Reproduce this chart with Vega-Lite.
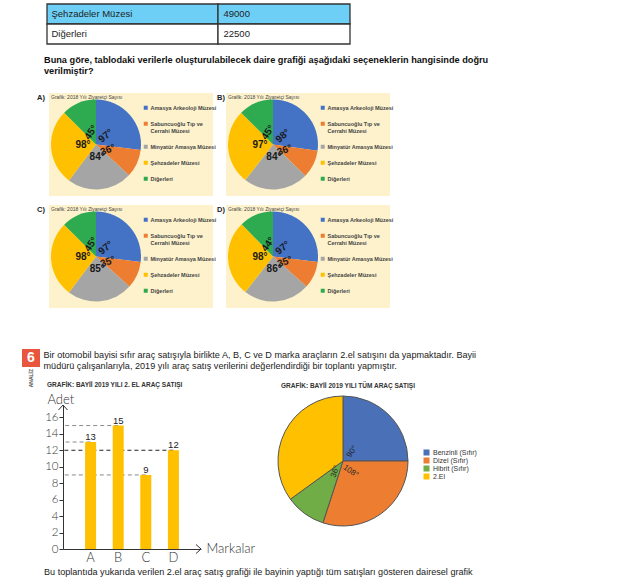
{
  "$schema": "https://vega.github.io/schema/vega-lite/v6.json",
  "padding": {"left": 0, "top": 3, "right": 0, "bottom": 0},
  "background": "white",
  "config": {
    "view": {"stroke": null},
    "font": "Liberation Sans",
    "axis": {"grid": false}
  },
  "datasets": {
    "tablo": [
      {"muze": "Şehzadeler Müzesi", "ziyaretci": 49000},
      {"muze": "Diğerleri", "ziyaretci": 22500}
    ],
    "A": [
      {"sira": 1, "muze": "Amasya Arkeoloji Müzesi", "derece": 97, "etiket": "97°"},
      {"sira": 2, "muze": "Sabuncuoğlu Tıp ve Cerrahi Müzesi", "derece": 36, "etiket": "36°"},
      {"sira": 3, "muze": "Minyatür Amasya Müzesi", "derece": 84, "etiket": "84°"},
      {"sira": 4, "muze": "Şehzadeler Müzesi", "derece": 98, "etiket": "98°"},
      {"sira": 5, "muze": "Diğerleri", "derece": 45, "etiket": "45°"}
    ],
    "B": [
      {"sira": 1, "muze": "Amasya Arkeoloji Müzesi", "derece": 98, "etiket": "98°"},
      {"sira": 2, "muze": "Sabuncuoğlu Tıp ve Cerrahi Müzesi", "derece": 36, "etiket": "36°"},
      {"sira": 3, "muze": "Minyatür Amasya Müzesi", "derece": 84, "etiket": "84°"},
      {"sira": 4, "muze": "Şehzadeler Müzesi", "derece": 97, "etiket": "97°"},
      {"sira": 5, "muze": "Diğerleri", "derece": 45, "etiket": "45°"}
    ],
    "C": [
      {"sira": 1, "muze": "Amasya Arkeoloji Müzesi", "derece": 97, "etiket": "97°"},
      {"sira": 2, "muze": "Sabuncuoğlu Tıp ve Cerrahi Müzesi", "derece": 35, "etiket": "35°"},
      {"sira": 3, "muze": "Minyatür Amasya Müzesi", "derece": 85, "etiket": "85°"},
      {"sira": 4, "muze": "Şehzadeler Müzesi", "derece": 98, "etiket": "98°"},
      {"sira": 5, "muze": "Diğerleri", "derece": 45, "etiket": "45°"}
    ],
    "D": [
      {"sira": 1, "muze": "Amasya Arkeoloji Müzesi", "derece": 97, "etiket": "97°"},
      {"sira": 2, "muze": "Sabuncuoğlu Tıp ve Cerrahi Müzesi", "derece": 35, "etiket": "35°"},
      {"sira": 3, "muze": "Minyatür Amasya Müzesi", "derece": 86, "etiket": "86°"},
      {"sira": 4, "muze": "Şehzadeler Müzesi", "derece": 98, "etiket": "98°"},
      {"sira": 5, "muze": "Diğerleri", "derece": 44, "etiket": "44°"}
    ],
    "ikinciEl": [
      {"marka": "A", "adet": 13},
      {"marka": "B", "adet": 15},
      {"marka": "C", "adet": 9},
      {"marka": "D", "adet": 12}
    ],
    "tumSatis": [
      {"sira": 1, "arac": "Benzinli (Sıfır)", "derece": 90, "etiket": "90°"},
      {"sira": 2, "arac": "Dizel (Sıfır)", "derece": 108, "etiket": "108°"},
      {"sira": 3, "arac": "Hibrit (Sıfır)", "derece": 36, "etiket": "36°"},
      {"sira": 4, "arac": "2.El", "derece": 126, "etiket": ""}
    ]
  },
  "spacing": 0,
  "bounds": "full",
  "align": "each",
  "resolve": {"scale": {"color": "independent", "fill": "independent", "stroke": "independent"}, "legend": {"color": "independent"}},
  "vconcat": [
    {
      "spacing": 0, "bounds": "flush", "align": "each",
      "resolve": {"scale": {"color": "independent", "fill": "independent"}, "legend": {"color": "independent"}},
      "hconcat": [
        {"width": 47, "height": 89, "data": {"values": [{}]}, "mark": {"type": "point", "opacity": 0}},
        {
          "width": 171, "height": 40,
          "data": {"name": "tablo"},
          "title": {"text": ["Buna göre, tablodaki verilerle oluşturulabilecek daire grafiği aşağıdaki seçeneklerin hangisinde doğru", "verilmiştir?"], "orient": "bottom", "anchor": "start", "frame": "group", "baseline": "top", "offset": 11, "dx": -3, "fontSize": 9.2, "fontWeight": "bold", "color": "#111", "lineHeight": 11, "font": "Liberation Sans Narrow, Liberation Sans"},
          "mark": {"type": "rect", "stroke": "#333", "strokeWidth": 1.3},
          "encoding": {
            "y": {"field": "muze", "type": "nominal", "sort": null, "scale": {"paddingInner": 0, "paddingOuter": 0}, "axis": {"title": null, "domain": false, "ticks": false, "tickSize": 0, "labelPadding": -4, "labelAlign": "left", "labelFontSize": 9.5, "labelColor": "#222", "labelFont": "Liberation Sans Narrow, Liberation Sans", "zindex": 1}},
            "fill": {"field": "muze", "type": "nominal", "scale": {"domain": ["Şehzadeler Müzesi", "Diğerleri"], "range": ["#6DCFF6", "#FFFFFF"]}, "legend": null}
          }
        },
        {
          "width": 132, "height": 40,
          "data": {"name": "tablo"},
          "mark": {"type": "rect", "stroke": "#333", "strokeWidth": 1.3},
          "encoding": {
            "y": {"field": "ziyaretci", "type": "nominal", "sort": null, "scale": {"paddingInner": 0, "paddingOuter": 0}, "axis": {"title": null, "domain": false, "ticks": false, "tickSize": 0, "labelPadding": -5, "labelAlign": "left", "labelFontSize": 9.5, "labelColor": "#222", "labelFont": "Liberation Sans Narrow, Liberation Sans", "zindex": 1}},
            "fill": {"field": "muze", "type": "nominal", "scale": {"domain": ["Şehzadeler Müzesi", "Diğerleri"], "range": ["#6DCFF6", "#FFFFFF"]}, "legend": null}
          }
        }
      ]
    },
    {
      "spacing": 0, "bounds": "flush", "align": "each",
      "resolve": {"scale": {"color": "independent"}, "legend": {"color": "independent"}},
      "hconcat": [
        {"width": 49, "height": 112, "data": {"values": [{}]}, "mark": {"type": "point", "opacity": 0},
         "title": {"text": "A)", "orient": "top", "anchor": "end", "frame": "group", "offset": -8, "dx": -4, "fontSize": 7.5, "fontWeight": "bold", "color": "#222"}},
        {
          "width": 94, "height": 103,
          "view": {"fill": "#FDF2CC"},
          "data": {"name": "A"},
          "title": {"text": "Grafik: 2018 Yılı Ziyaretçi Sayısı", "orient": "top", "anchor": "start", "frame": "group", "offset": -6.5, "dx": 2, "fontSize": 5, "fontWeight": "normal", "color": "#444", "font": "Liberation Sans Narrow, Liberation Sans"},
          "encoding": {"theta": {"field": "derece", "type": "quantitative", "stack": true}, "order": {"field": "sira", "type": "quantitative"}},
          "layer": [
            {"mark": {"type": "arc", "outerRadius": 45}, "encoding": {"color": {"field": "muze", "type": "nominal", "scale": {"domain": ["Amasya Arkeoloji Müzesi", "Sabuncuoğlu Tıp ve Cerrahi Müzesi", "Minyatür Amasya Müzesi", "Şehzadeler Müzesi", "Diğerleri"], "range": ["#4472C4", "#ED7D31", "#A5A5A5", "#FFC000", "#2EAA50"]}, "legend": null}}},
            {"mark": {"type": "text", "radius": 13, "fontSize": 10, "fontWeight": "bold", "color": "#1a1a1a"}, "encoding": {"text": {"field": "etiket"}, "angle": {"condition": [{"test": "datum.muze === 'Diğerleri'", "value": -55}, {"test": "datum.muze === 'Amasya Arkeoloji Müzesi'", "value": -40}, {"test": "datum.muze === 'Sabuncuoğlu Tıp ve Cerrahi Müzesi'", "value": -20}], "value": 0}}}
          ]
        },
        {
          "width": 70, "height": 103,
          "view": {"fill": "#FDF2CC"},
          "data": {"name": "A"},
          "mark": {"type": "square", "opacity": 0},
          "encoding": {"color": {"field": "muze", "type": "nominal", "scale": {"domain": ["Amasya Arkeoloji Müzesi", "Sabuncuoğlu Tıp ve Cerrahi Müzesi", "Minyatür Amasya Müzesi", "Şehzadeler Müzesi", "Diğerleri"], "range": ["#4472C4", "#ED7D31", "#A5A5A5", "#FFC000", "#2EAA50"]},
            "legend": {"orient": "none", "legendX": 0, "legendY": 12, "title": null, "symbolType": "square", "symbolSize": 16, "symbolOpacity": 1, "symbolStrokeWidth": 0, "labelFontSize": 5.5, "labelFontWeight": "bold", "labelColor": "#444", "labelFont": "Liberation Sans Narrow, Liberation Sans", "labelOffset": 2, "labelLimit": 200, "rowPadding": 9, "padding": 0, "labelExpr": "datum.label === 'Sabuncuoğlu Tıp ve Cerrahi Müzesi' ? ['Sabuncuoğlu Tıp ve', 'Cerrahi Müzesi'] : datum.label"}}}
        },
        {"width": 13, "height": 103, "data": {"values": [{}]}, "mark": {"type": "point", "opacity": 0},
         "title": {"text": "B)", "orient": "top", "anchor": "end", "frame": "group", "offset": -8, "dx": -1, "fontSize": 7.5, "fontWeight": "bold", "color": "#222"}},
        {
          "width": 94, "height": 103,
          "view": {"fill": "#FDF2CC"},
          "data": {"name": "B"},
          "title": {"text": "Grafik: 2018 Yılı Ziyaretçi Sayısı", "orient": "top", "anchor": "start", "frame": "group", "offset": -6.5, "dx": 2, "fontSize": 5, "fontWeight": "normal", "color": "#444", "font": "Liberation Sans Narrow, Liberation Sans"},
          "encoding": {"theta": {"field": "derece", "type": "quantitative", "stack": true}, "order": {"field": "sira", "type": "quantitative"}},
          "layer": [
            {"mark": {"type": "arc", "outerRadius": 45}, "encoding": {"color": {"field": "muze", "type": "nominal", "scale": {"domain": ["Amasya Arkeoloji Müzesi", "Sabuncuoğlu Tıp ve Cerrahi Müzesi", "Minyatür Amasya Müzesi", "Şehzadeler Müzesi", "Diğerleri"], "range": ["#4472C4", "#ED7D31", "#A5A5A5", "#FFC000", "#2EAA50"]}, "legend": null}}},
            {"mark": {"type": "text", "radius": 13, "fontSize": 10, "fontWeight": "bold", "color": "#1a1a1a"}, "encoding": {"text": {"field": "etiket"}, "angle": {"condition": [{"test": "datum.muze === 'Diğerleri'", "value": -55}, {"test": "datum.muze === 'Amasya Arkeoloji Müzesi'", "value": -40}, {"test": "datum.muze === 'Sabuncuoğlu Tıp ve Cerrahi Müzesi'", "value": -20}], "value": 0}}}
          ]
        },
        {
          "width": 70, "height": 103,
          "view": {"fill": "#FDF2CC"},
          "data": {"name": "B"},
          "mark": {"type": "square", "opacity": 0},
          "encoding": {"color": {"field": "muze", "type": "nominal", "scale": {"domain": ["Amasya Arkeoloji Müzesi", "Sabuncuoğlu Tıp ve Cerrahi Müzesi", "Minyatür Amasya Müzesi", "Şehzadeler Müzesi", "Diğerleri"], "range": ["#4472C4", "#ED7D31", "#A5A5A5", "#FFC000", "#2EAA50"]},
            "legend": {"orient": "none", "legendX": 0, "legendY": 12, "title": null, "symbolType": "square", "symbolSize": 16, "symbolOpacity": 1, "symbolStrokeWidth": 0, "labelFontSize": 5.5, "labelFontWeight": "bold", "labelColor": "#444", "labelFont": "Liberation Sans Narrow, Liberation Sans", "labelOffset": 2, "labelLimit": 200, "rowPadding": 9, "padding": 0, "labelExpr": "datum.label === 'Sabuncuoğlu Tıp ve Cerrahi Müzesi' ? ['Sabuncuoğlu Tıp ve', 'Cerrahi Müzesi'] : datum.label"}}}
        }
      ]
    },
    {
      "spacing": 0, "bounds": "flush", "align": "each",
      "resolve": {"scale": {"color": "independent"}, "legend": {"color": "independent"}},
      "hconcat": [
        {"width": 49, "height": 141, "data": {"values": [{}]}, "mark": {"type": "point", "opacity": 0},
         "title": {"text": "C)", "orient": "top", "anchor": "end", "frame": "group", "offset": -8, "dx": -4, "fontSize": 7.5, "fontWeight": "bold", "color": "#222"}},
        {
          "width": 94, "height": 103,
          "view": {"fill": "#FDF2CC"},
          "data": {"name": "C"},
          "title": {"text": "Grafik: 2018 Yılı Ziyaretçi Sayısı", "orient": "top", "anchor": "start", "frame": "group", "offset": -6.5, "dx": 2, "fontSize": 5, "fontWeight": "normal", "color": "#444", "font": "Liberation Sans Narrow, Liberation Sans"},
          "encoding": {"theta": {"field": "derece", "type": "quantitative", "stack": true}, "order": {"field": "sira", "type": "quantitative"}},
          "layer": [
            {"mark": {"type": "arc", "outerRadius": 45}, "encoding": {"color": {"field": "muze", "type": "nominal", "scale": {"domain": ["Amasya Arkeoloji Müzesi", "Sabuncuoğlu Tıp ve Cerrahi Müzesi", "Minyatür Amasya Müzesi", "Şehzadeler Müzesi", "Diğerleri"], "range": ["#4472C4", "#ED7D31", "#A5A5A5", "#FFC000", "#2EAA50"]}, "legend": null}}},
            {"mark": {"type": "text", "radius": 13, "fontSize": 10, "fontWeight": "bold", "color": "#1a1a1a"}, "encoding": {"text": {"field": "etiket"}, "angle": {"condition": [{"test": "datum.muze === 'Diğerleri'", "value": -55}, {"test": "datum.muze === 'Amasya Arkeoloji Müzesi'", "value": -40}, {"test": "datum.muze === 'Sabuncuoğlu Tıp ve Cerrahi Müzesi'", "value": -20}], "value": 0}}}
          ]
        },
        {
          "width": 70, "height": 103,
          "view": {"fill": "#FDF2CC"},
          "data": {"name": "C"},
          "mark": {"type": "square", "opacity": 0},
          "encoding": {"color": {"field": "muze", "type": "nominal", "scale": {"domain": ["Amasya Arkeoloji Müzesi", "Sabuncuoğlu Tıp ve Cerrahi Müzesi", "Minyatür Amasya Müzesi", "Şehzadeler Müzesi", "Diğerleri"], "range": ["#4472C4", "#ED7D31", "#A5A5A5", "#FFC000", "#2EAA50"]},
            "legend": {"orient": "none", "legendX": 0, "legendY": 12, "title": null, "symbolType": "square", "symbolSize": 16, "symbolOpacity": 1, "symbolStrokeWidth": 0, "labelFontSize": 5.5, "labelFontWeight": "bold", "labelColor": "#444", "labelFont": "Liberation Sans Narrow, Liberation Sans", "labelOffset": 2, "labelLimit": 200, "rowPadding": 9, "padding": 0, "labelExpr": "datum.label === 'Sabuncuoğlu Tıp ve Cerrahi Müzesi' ? ['Sabuncuoğlu Tıp ve', 'Cerrahi Müzesi'] : datum.label"}}}
        },
        {"width": 13, "height": 103, "data": {"values": [{}]}, "mark": {"type": "point", "opacity": 0},
         "title": {"text": "D)", "orient": "top", "anchor": "end", "frame": "group", "offset": -8, "dx": -1, "fontSize": 7.5, "fontWeight": "bold", "color": "#222"}},
        {
          "width": 94, "height": 103,
          "view": {"fill": "#FDF2CC"},
          "data": {"name": "D"},
          "title": {"text": "Grafik: 2018 Yılı Ziyaretçi Sayısı", "orient": "top", "anchor": "start", "frame": "group", "offset": -6.5, "dx": 2, "fontSize": 5, "fontWeight": "normal", "color": "#444", "font": "Liberation Sans Narrow, Liberation Sans"},
          "encoding": {"theta": {"field": "derece", "type": "quantitative", "stack": true}, "order": {"field": "sira", "type": "quantitative"}},
          "layer": [
            {"mark": {"type": "arc", "outerRadius": 45}, "encoding": {"color": {"field": "muze", "type": "nominal", "scale": {"domain": ["Amasya Arkeoloji Müzesi", "Sabuncuoğlu Tıp ve Cerrahi Müzesi", "Minyatür Amasya Müzesi", "Şehzadeler Müzesi", "Diğerleri"], "range": ["#4472C4", "#ED7D31", "#A5A5A5", "#FFC000", "#2EAA50"]}, "legend": null}}},
            {"mark": {"type": "text", "radius": 13, "fontSize": 10, "fontWeight": "bold", "color": "#1a1a1a"}, "encoding": {"text": {"field": "etiket"}, "angle": {"condition": [{"test": "datum.muze === 'Diğerleri'", "value": -55}, {"test": "datum.muze === 'Amasya Arkeoloji Müzesi'", "value": -40}, {"test": "datum.muze === 'Sabuncuoğlu Tıp ve Cerrahi Müzesi'", "value": -20}], "value": 0}}}
          ]
        },
        {
          "width": 70, "height": 103,
          "view": {"fill": "#FDF2CC"},
          "data": {"name": "D"},
          "mark": {"type": "square", "opacity": 0},
          "encoding": {"color": {"field": "muze", "type": "nominal", "scale": {"domain": ["Amasya Arkeoloji Müzesi", "Sabuncuoğlu Tıp ve Cerrahi Müzesi", "Minyatür Amasya Müzesi", "Şehzadeler Müzesi", "Diğerleri"], "range": ["#4472C4", "#ED7D31", "#A5A5A5", "#FFC000", "#2EAA50"]},
            "legend": {"orient": "none", "legendX": 0, "legendY": 12, "title": null, "symbolType": "square", "symbolSize": 16, "symbolOpacity": 1, "symbolStrokeWidth": 0, "labelFontSize": 5.5, "labelFontWeight": "bold", "labelColor": "#444", "labelFont": "Liberation Sans Narrow, Liberation Sans", "labelOffset": 2, "labelLimit": 200, "rowPadding": 9, "padding": 0, "labelExpr": "datum.label === 'Sabuncuoğlu Tıp ve Cerrahi Müzesi' ? ['Sabuncuoğlu Tıp ve', 'Cerrahi Müzesi'] : datum.label"}}}
        }
      ]
    },
    {
      "spacing": 0, "bounds": "flush", "align": "each",
      "hconcat": [
        {"width": 22, "height": 43.5, "data": {"values": [{}]}, "mark": {"type": "point", "opacity": 0}},
        {
          "width": 18, "height": 18,
          "view": {"fill": "#E8563D"},
          "data": {"values": [{"soru": "6"}]},
          "title": {"text": "ANALİZ", "orient": "bottom", "anchor": "middle", "frame": "group", "angle": -90, "align": "right", "baseline": "middle", "offset": 2, "fontSize": 5, "fontWeight": "bold", "color": "#555"},
          "mark": {"type": "text", "color": "#FFFFFF", "fontWeight": "bold", "fontSize": 14},
          "encoding": {"text": {"field": "soru"}}
        },
        {"width": 7, "height": 1, "data": {"values": [{}]}, "mark": {"type": "point", "opacity": 0},
         "title": {"text": ["Bir otomobil bayisi sıfır araç satışıyla birlikte A, B, C ve D marka araçların 2.el satışını da yapmaktadır. Bayii", "müdürü çalışanlarıyla, 2019 yılı araç satış verilerini değerlendirdiği bir toplantı yapmıştır."], "orient": "top", "anchor": "start", "frame": "group", "offset": -24, "dx": 3.5, "fontSize": 9.1, "fontWeight": "normal", "color": "#222", "lineHeight": 11, "font": "Liberation Sans Narrow, Liberation Sans"}},
        {"width": 234, "height": 1, "data": {"values": [{}]}, "mark": {"type": "point", "opacity": 0},
         "title": {"text": "GRAFİK: BAYİİ 2019 YILI 2. EL ARAÇ SATIŞI", "orient": "top", "anchor": "start", "frame": "group", "offset": -41.5, "fontSize": 6.5, "fontWeight": "bold", "color": "#333", "font": "Liberation Sans Narrow, Liberation Sans"}},
        {"width": 1, "height": 1, "data": {"values": [{}]}, "mark": {"type": "point", "opacity": 0},
         "title": {"text": "GRAFİK: BAYİİ 2019 YILI TÜM ARAÇ SATIŞI", "orient": "top", "anchor": "start", "frame": "group", "offset": -43, "fontSize": 6.5, "fontWeight": "bold", "color": "#333", "font": "Liberation Sans Narrow, Liberation Sans"}}
      ]
    },
    {
      "spacing": 0, "bounds": "flush", "align": "each",
      "resolve": {"scale": {"color": "independent"}, "legend": {"color": "independent"}},
      "hconcat": [
        {"width": 63, "height": 163, "data": {"values": [{}]}, "mark": {"type": "point", "opacity": 0},
         "title": {"text": "Bu toplantıda yukarıda verilen 2.el araç satış grafiği ile bayinin yaptığı tüm satışları gösteren dairesel grafik", "orient": "bottom", "anchor": "start", "frame": "group", "offset": 0, "dx": 44, "fontSize": 9.1, "fontWeight": "normal", "color": "#222", "font": "Liberation Sans Narrow, Liberation Sans"}},
        {
          "width": 138, "height": 144,
          "data": {"name": "ikinciEl"},
          "layer": [
            {
              "mark": {"type": "rule", "strokeDash": [4, 3], "strokeWidth": 1},
              "encoding": {
                "x": {"field": "marka", "type": "nominal", "bandPosition": 0.5, "scale": {"paddingInner": 0, "paddingOuter": 0.5},
                  "axis": {"title": "Markalar", "labelAngle": 0, "ticks": false, "domainColor": "#333", "labelFont": "Lato", "labelFontWeight": 300, "labelFontSize": 13, "labelColor": "#333", "labelPadding": 2, "titleX": 143, "titleY": -1, "titleAlign": "left", "titleBaseline": "middle", "titleFont": "Lato", "titleFontWeight": 300, "titleFontSize": 13, "titleColor": "#333"}},
                "x2": {"value": 0},
                "y": {"field": "adet", "type": "quantitative", "scale": {"domain": [0, 17.5], "nice": false},
                  "axis": {"values": [0, 2, 4, 6, 8, 10, 12, 14, 16], "tickCount": 20, "labelOverlap": false, "labelFlush": false, "domainColor": "#333", "tickColor": "#333", "tickSize": 4, "labelFont": "Lato", "labelFontWeight": 300, "labelFontSize": 11.5, "labelColor": "#333", "labelPadding": 1, "title": "Adet", "titleAngle": 0, "titleX": -16, "titleY": -6, "titleAlign": "left", "titleBaseline": "middle", "titleFont": "Lato", "titleFontWeight": 300, "titleFontSize": 13, "titleColor": "#333"}},
                "stroke": {"field": "marka", "type": "nominal", "scale": {"domain": ["A", "B", "C", "D"], "range": ["#8a8a8a", "#8a8a8a", "#8a8a8a", "#222222"]}, "legend": null}
              }
            },
            {
              "mark": {"type": "bar", "size": 11, "color": "#FFC000"},
              "encoding": {"x": {"field": "marka", "type": "nominal"}, "y": {"field": "adet", "type": "quantitative"}}
            },
            {
              "mark": {"type": "text", "dy": -5, "fontSize": 9.5, "color": "#222"},
              "encoding": {"x": {"field": "marka", "type": "nominal"}, "y": {"field": "adet", "type": "quantitative"}, "text": {"field": "adet", "type": "quantitative"}}
            },
            {
              "data": {"values": [{"eksen": "Adet"}]},
              "mark": {"type": "point", "shape": "M-0.9,1L0,0L0.9,1", "size": 100, "filled": false, "stroke": "#333", "strokeWidth": 1, "opacity": 1},
              "encoding": {"x": {"value": 0}, "y": {"datum": 17.5, "type": "quantitative"}}
            },
            {
              "data": {"values": [{"eksen": "Markalar"}]},
              "mark": {"type": "point", "shape": "M-1,-0.9L0,0L-1,0.9", "size": 100, "filled": false, "stroke": "#333", "strokeWidth": 1, "opacity": 1},
              "encoding": {"x": {"value": "width"}, "y": {"datum": 0, "type": "quantitative"}}
            }
          ]
        },
        {"width": 77, "height": 1, "data": {"values": [{}]}, "mark": {"type": "point", "opacity": 0}},
        {
          "width": 130, "height": 112,
          "data": {"name": "tumSatis"},
          "encoding": {"theta": {"field": "derece", "type": "quantitative", "stack": true}, "order": {"field": "sira", "type": "quantitative"}},
          "layer": [
            {"mark": {"type": "arc", "outerRadius": 65, "stroke": "#555", "strokeWidth": 1},
             "encoding": {"color": {"field": "arac", "type": "nominal", "scale": {"domain": ["Benzinli (Sıfır)", "Dizel (Sıfır)", "Hibrit (Sıfır)", "2.El"], "range": ["#4A70B8", "#ED7D31", "#70AD47", "#FFC000"]},
               "legend": {"orient": "none", "legendX": 145, "legendY": 44, "title": null, "symbolType": "square", "symbolSize": 36, "symbolStrokeWidth": 0, "labelFontSize": 7, "labelColor": "#333", "labelOffset": 3, "rowPadding": 0, "padding": 0}}}},
            {"mark": {"type": "text", "radius": 13, "fontSize": 8, "color": "#222"},
             "encoding": {"text": {"field": "etiket"}, "angle": {"condition": [{"test": "datum.arac === 'Benzinli (Sıfır)'", "value": -55}, {"test": "datum.arac === 'Dizel (Sıfır)'", "value": 35}, {"test": "datum.arac === 'Hibrit (Sıfır)'", "value": -70}], "value": 0}}}
          ]
        }
      ]
    }
  ]
}
